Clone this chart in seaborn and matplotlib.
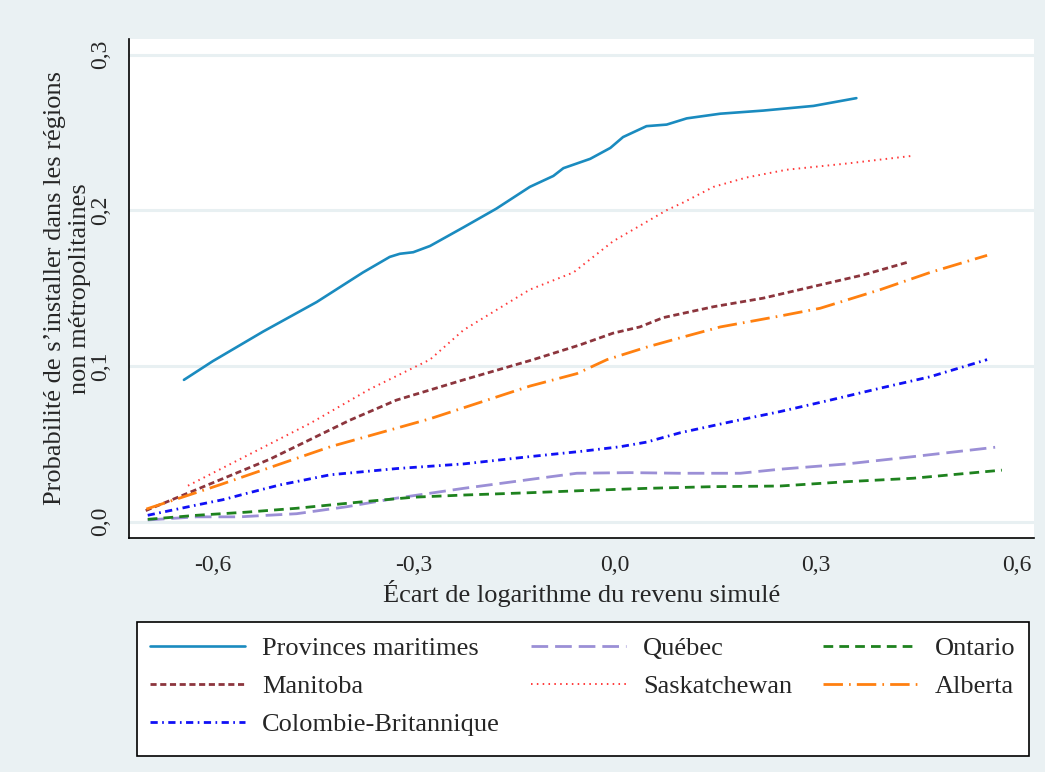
import pandas as pd
import seaborn as sns
import matplotlib.pyplot as plt
from matplotlib.patches import Rectangle

# values
pm_x = [-0.643, -0.600, -0.525, -0.445, -0.376, -0.336, -0.321, -0.301, -0.276, -0.226, -0.177,
        -0.127, -0.092, -0.077, -0.037, -0.007, 0.012, 0.047, 0.077, 0.107, 0.157, 0.221, 0.296, 0.360]
pm_y = [0.091, 0.103, 0.122, 0.141, 0.160, 0.170, 0.172, 0.173, 0.177, 0.189, 0.201,
        0.215, 0.222, 0.227, 0.233, 0.240, 0.247, 0.254, 0.255, 0.259, 0.262, 0.264, 0.267, 0.272]

sk_x = [-0.637, -0.455, -0.366, -0.276, -0.226, -0.127, -0.062, -0.003, 0.037, 0.077, 0.102,
        0.147, 0.196, 0.256, 0.346, 0.445]
sk_y = [0.023, 0.063, 0.085, 0.104, 0.123, 0.149, 0.160, 0.180, 0.190, 0.200, 0.205,
        0.215, 0.221, 0.226, 0.230, 0.235]

mb_x = [-0.700, -0.644, -0.515, -0.396, -0.326, -0.226, -0.122, -0.052, -0.003, 0.037, 0.072,
        0.147, 0.221, 0.296, 0.371, 0.440]
mb_y = [0.007, 0.017, 0.040, 0.065, 0.078, 0.091, 0.104, 0.1135, 0.121, 0.125, 0.131,
        0.138, 0.1435, 0.151, 0.1585, 0.167]

ab_x = [-0.699, -0.590, -0.425, -0.276, -0.127, -0.057, -0.012, 0.047, 0.097, 0.157, 0.246,
        0.306, 0.396, 0.470, 0.555]
ab_y = [0.008, 0.0235, 0.048, 0.066, 0.087, 0.095, 0.104, 0.112, 0.118, 0.125, 0.132,
        0.137, 0.149, 0.160, 0.171]

cb_x = [-0.697, -0.624, -0.585, -0.550, -0.500, -0.425, -0.326, -0.226, -0.127, -0.052, 0.007,
        0.047, 0.097, 0.172, 0.246, 0.321, 0.396, 0.470, 0.555]
cb_y = [0.004, 0.0106, 0.014, 0.018, 0.0235, 0.030, 0.034, 0.037, 0.0417, 0.045, 0.048,
        0.051, 0.057, 0.064, 0.0706, 0.078, 0.0857, 0.093, 0.104]

qc_x = [-0.697, -0.624, -0.560, -0.475, -0.400, -0.326, -0.226, -0.127, -0.057, 0.022, 0.097,
        0.187, 0.246, 0.346, 0.445, 0.567]
qc_y = [0.001, 0.003, 0.003, 0.005, 0.0095, 0.015, 0.0213, 0.027, 0.031, 0.0314, 0.031,
        0.031, 0.0336, 0.037, 0.0417, 0.0477]

on_x = [-0.697, -0.624, -0.550, -0.475, -0.376, -0.301, -0.226, -0.127, -0.052, 0.047, 0.147,
        0.246, 0.346, 0.445, 0.577]
on_y = [0.0014, 0.004, 0.006, 0.0085, 0.0127, 0.0156, 0.017, 0.0185, 0.0198, 0.0213, 0.0224,
        0.0228, 0.0256, 0.0278, 0.033]

xticks = [-0.6, -0.3, 0.0, 0.3, 0.6]
xtick_labels = ["-0,6", "-0,3", "0,0", "0,3", "0,6"]
yticks = [0.0, 0.1, 0.2, 0.3]
ytick_labels = ["0,0", "0,1", "0,2", "0,3"]

series = [
    ("Provinces maritimes", pm_x, pm_y, "#1a8bbf", "", 1.9),
    ("Manitoba", mb_x, mb_y, "#8c353d", (2.2, 1.3), 2.0),
    ("Colombie-Britannique", cb_x, cb_y, "#1010f5", (2.6, 1.6, 0.6, 1.6), 2.0),
    ("Québec", qc_x, qc_y, "#9b8fd6", (6, 2.5), 2.0),
    ("Saskatchewan", sk_x, sk_y, "#ff3a3a", (0.8, 2.2), 1.4),
    ("Ontario", on_x, on_y, "#1e821e", (3.5, 2.2), 2.0),
    ("Alberta", ab_x, ab_y, "#ff8010", (7, 2.2, 0.6, 2.2), 2.0),
]

sns.set_style("white")
plt.rcParams['font.family'] = ['Liberation Serif', 'DejaVu Serif']

bg = "#eaf1f3"
fig = plt.figure(figsize=(10.45, 7.72), dpi=100, facecolor=bg)
ax = fig.add_axes([0.1234, 0.3031, 0.8661, 0.6464])
ax.set_facecolor("white")

for yv in yticks:
    ax.axhline(yv, color="#e8f0f2", lw=2.2, zorder=0)

for name, xs, ys, col, dash, lw in series:
    d = pd.DataFrame({"x": xs, "y": ys})
    sns.lineplot(data=d, x="x", y="y", ax=ax, color=col, lw=lw, label=name,
                 estimator=None, sort=False, legend=False)
    ln = ax.get_lines()[-1]
    if dash:
        ln.set_dashes(dash)

ax.set_xlim(-0.725, 0.625)
ax.set_ylim(-0.0106, 0.310)
ax.set_xticks(xticks)
ax.set_xticklabels(xtick_labels, fontsize=17)
ax.set_yticks(yticks)
ax.set_yticklabels(ytick_labels, fontsize=17, rotation=90, va="center")
ax.tick_params(axis="both", direction="out", length=7, width=1.1, color="black", pad=6)
ax.tick_params(axis="x", pad=5)

for s in ["top", "right"]:
    ax.spines[s].set_visible(False)
for s in ["left", "bottom"]:
    ax.spines[s].set_color("black")
    ax.spines[s].set_linewidth(1.2)

ax.set_xlabel("Écart de logarithme du revenu simulé", fontsize=19, labelpad=3)
ax.set_ylabel("Probabilité de s’installer dans les régions\nnon métropolitaines",
              fontsize=19, labelpad=-1, linespacing=1.2)

# legend box drawn as a figure patch, legend entries placed inside it
W, H = 1045, 772
fig.patches.append(Rectangle((137 / W, 1 - 756 / H), (1029 - 137) / W, (756 - 622) / H,
                             transform=fig.transFigure, facecolor="white",
                             edgecolor="black", lw=1.2, zorder=-1))
handles = ax.get_lines()[4:]
labels = [s[0] for s in series]
leg = fig.legend(handles, labels, loc="upper left",
                 bbox_to_anchor=(137 / W, 1 - 624 / H, (1029 - 137) / W, 0.001),
                 mode="expand", ncol=3, fontsize=19, frameon=False,
                 handlelength=3.6, handletextpad=0.65, borderaxespad=0,
                 labelspacing=0.55, borderpad=0.5)

plt.savefig("out.png", dpi=100, facecolor=bg)
